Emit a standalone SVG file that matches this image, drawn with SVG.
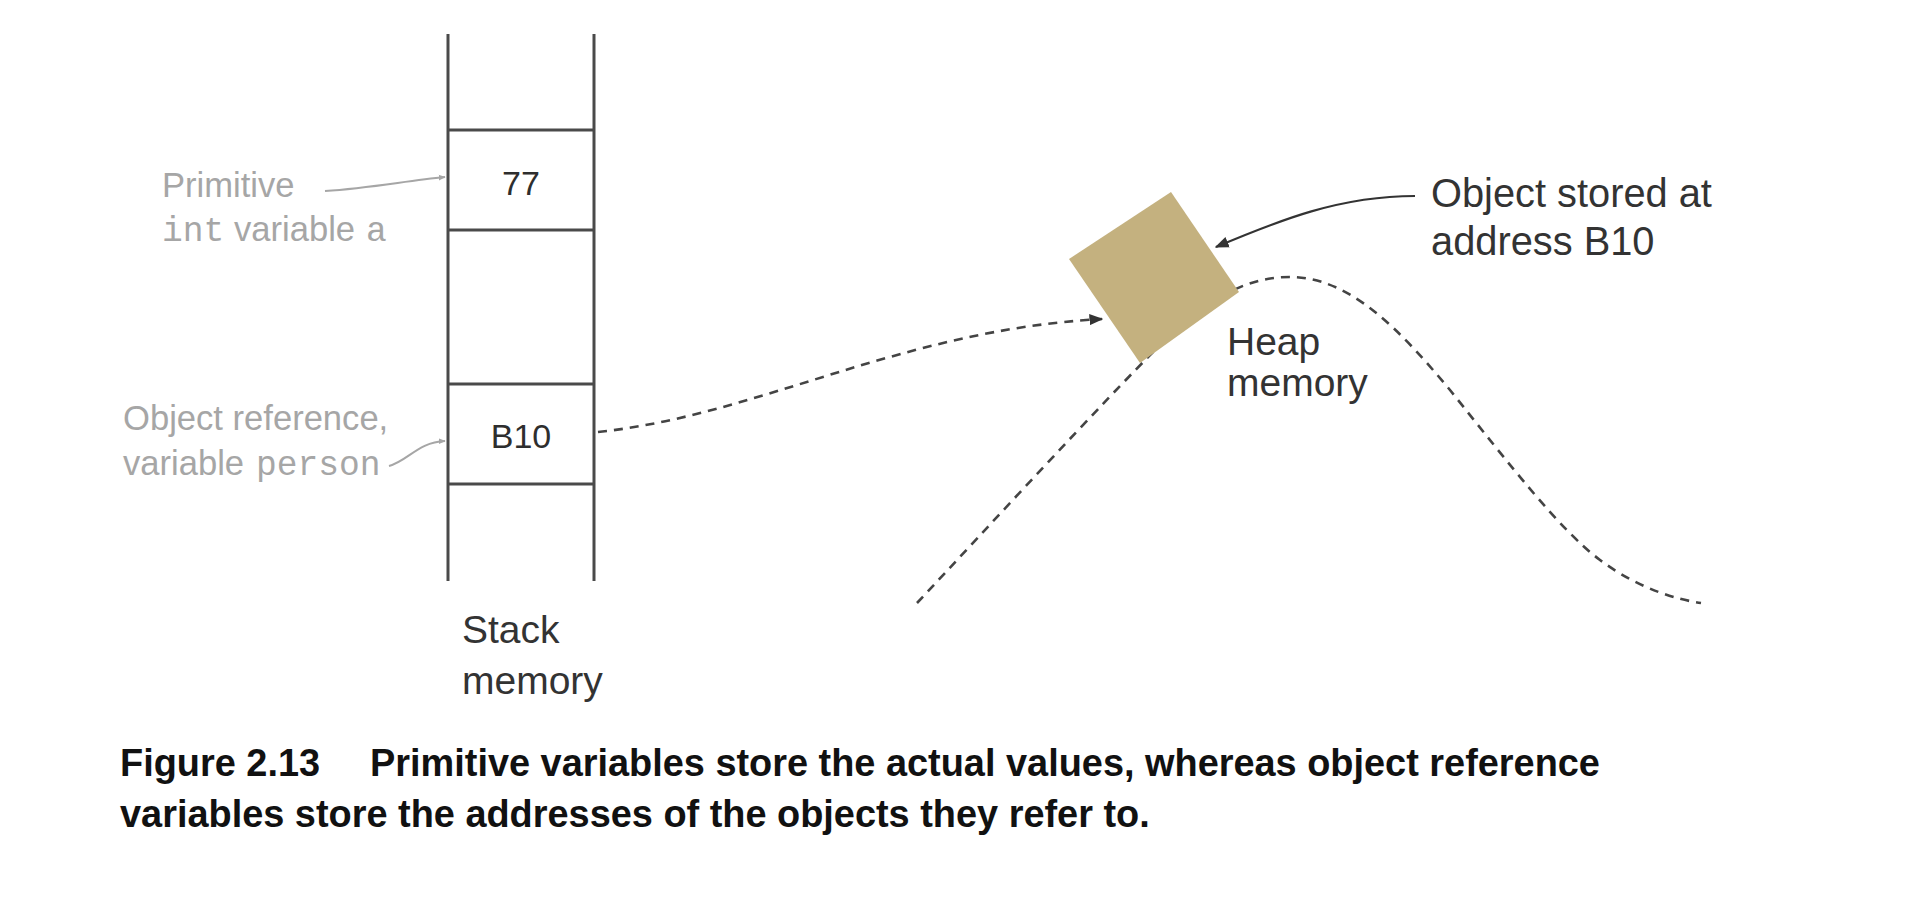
<svg xmlns="http://www.w3.org/2000/svg" width="1932" height="904" viewBox="0 0 1932 904">
<style>
.stk{stroke:#4a4a4a;stroke-width:3;fill:none}
.val{font-family:"Liberation Sans",Arial,sans-serif;font-size:34px;fill:#2e2e2e;text-anchor:middle}
.lbl{font-family:"Liberation Sans",Arial,sans-serif;font-size:39px;fill:#333}
.gry{font-family:"Liberation Sans",Arial,sans-serif;font-size:34.6px;fill:#a6a6a6}
.mono{font-family:"Liberation Mono","Courier New",monospace}
.cap{font-family:"Liberation Sans",Arial,sans-serif;font-size:37.9px;font-weight:bold;fill:#111}
.dash{fill:none;stroke:#444;stroke-width:2.6;stroke-dasharray:9 7}
.gline{fill:none;stroke:#a6a6a6;stroke-width:2}
.bline{fill:none;stroke:#333;stroke-width:2.2}
</style>
<defs>
<marker id="ag" viewBox="0 0 10 10" refX="9" refY="5" markerWidth="7" markerHeight="7" orient="auto" markerUnits="userSpaceOnUse">
<path d="M0,1 L10,5 L0,9 Z" fill="#a6a6a6"/>
</marker>
<marker id="ab" viewBox="0 0 10 10" refX="9" refY="5" markerWidth="14" markerHeight="14" orient="auto" markerUnits="userSpaceOnUse">
<path d="M0,1 L10,5 L0,9 Z" fill="#333"/>
</marker>
</defs>
<rect width="1932" height="904" fill="#fff"/>

<g id="stack">
<line class="stk" x1="448" y1="34" x2="448" y2="581"/>
<line class="stk" x1="594" y1="34" x2="594" y2="581"/>
<line class="stk" x1="448" y1="130" x2="594" y2="130"/>
<line class="stk" x1="448" y1="230" x2="594" y2="230"/>
<line class="stk" x1="448" y1="384" x2="594" y2="384"/>
<line class="stk" x1="448" y1="484" x2="594" y2="484"/>
<text class="lbl" x="462" y="643">Stack</text>
<text class="lbl" x="462" y="694">memory</text>
</g>

<g id="cell-77">
<text class="val" x="521" y="195">77</text>
</g>
<g id="cell-b10">
<text class="val" x="521" y="448">B10</text>
</g>

<g id="label-primitive">
<text class="gry" x="162" y="197">Primitive</text>
<text class="gry" y="241"><tspan class="mono" x="162">int</tspan><tspan x="234">variable</tspan><tspan class="mono" x="366">a</tspan></text>
</g>

<g id="label-objref">
<text class="gry" x="123" y="430">Object reference,</text>
<text class="gry" y="475"><tspan x="123">variable</tspan><tspan class="mono" x="256">person</tspan></text>
</g>

<g id="heap">
<path class="dash" d="M917,603 C990,525 1100,405 1160,345 C1210,295 1250,277 1290,277 C1350,277 1400,330 1450,390 C1510,465 1560,530 1600,560 C1640,590 1680,600 1701,603"/>
<text class="lbl" x="1227" y="355">Heap</text>
<text class="lbl" x="1227" y="396">memory</text>
</g>

<g id="object">
<polygon points="1171,192 1239,292 1140,363 1069,259" fill="#c4b17f"/>
</g>

<g id="label-object">
<text class="lbl" x="1431" y="207" style="font-size:39.8px">Object stored at</text>
<text class="lbl" x="1431" y="255" style="font-size:39.8px">address B10</text>
</g>

<g id="connectors">
<path class="gline" d="M325,191 C370,188 405,181 445,177" marker-end="url(#ag)"/>
<path class="gline" d="M389,466 C408,461 418,442 445,441" marker-end="url(#ag)"/>
<path class="dash" d="M598,432 C760,415 900,330 1102,319" marker-end="url(#ab)"/>
<path class="bline" d="M1415,196 C1340,196 1280,220 1216,247" marker-end="url(#ab)"/>
</g>

<g id="caption">
<text class="cap" x="120" y="776">Figure 2.13</text>
<text class="cap" x="370" y="776">Primitive variables store the actual values, whereas object reference</text>
<text class="cap" x="120" y="827">variables store the addresses of the objects they refer to.</text>
</g>
</svg>
